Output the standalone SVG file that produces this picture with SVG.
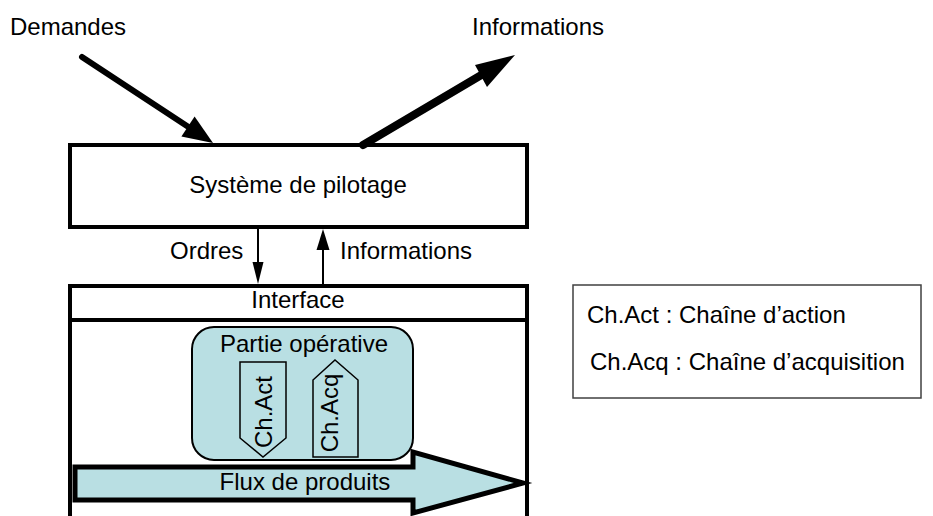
<svg xmlns="http://www.w3.org/2000/svg" width="933" height="516" viewBox="0 0 933 516">
<style>
text{font-family:"Liberation Sans",Arial,sans-serif;font-size:24px;fill:#000}
.mid{text-anchor:middle}
.thick{fill:#fff;stroke:#000;stroke-width:4}
.teal{fill:#b9dfe3;stroke:#000}
</style>
<rect width="933" height="516" fill="#fff"/>
<g id="demandes-label"><text x="10" y="35">Demandes</text></g>
<g id="informations-label"><text x="472" y="35">Informations</text></g>
<g id="systeme">
<rect class="thick" x="70" y="145" width="457" height="82"/>
<text class="mid" x="298" y="193">Système de pilotage</text>
</g>
<g id="partie-commande">
<path d="M70 516 V286 H527 V516" fill="#fff" stroke="#000" stroke-width="4"/>
<line x1="70" y1="320" x2="527" y2="320" stroke="#000" stroke-width="4"/>
<text class="mid" x="298" y="308">Interface</text>
</g>
<g id="partie-operative">
<rect class="teal" x="192" y="327" width="221" height="133" rx="22" stroke-width="2"/>
<text class="mid" x="304" y="352">Partie opérative</text>
</g>
<g id="ch-act">
<polygon class="teal" points="240,362 286,362 286,438 263,457 240,438" stroke-width="1.5"/>
<text class="mid" transform="translate(272,412) rotate(-90)">Ch.Act</text>
</g>
<g id="ch-acq">
<polygon class="teal" points="313,380 335,360 358,380 358,457 313,457" stroke-width="1.5"/>
<text class="mid" transform="translate(338,413) rotate(-90)">Ch.Acq</text>
</g>
<g id="flux">
<polygon class="teal" points="75,467 413,467 413,452 523,483 413,513 413,500 75,500" stroke-width="5"/>
<text class="mid" x="305" y="490">Flux de produits</text>
</g>
<g id="legende">
<rect x="573" y="285" width="348" height="113" fill="#fff" stroke="#404040" stroke-width="1.5"/>
<text x="587" y="323">Ch.Act : Chaîne d’action</text>
<text x="590" y="370">Ch.Acq : Chaîne d’acquisition</text>
</g>
<g id="connectors">
<line x1="82" y1="57" x2="190" y2="128" stroke="#000" stroke-width="6" stroke-linecap="round"/>
<polygon points="213,143 181.4,136.5 194.6,116.5"/>
<line x1="363" y1="145" x2="483" y2="74" stroke="#000" stroke-width="8" stroke-linecap="round"/>
<polygon points="515,55 475,65 487,87"/>
<line x1="258" y1="227" x2="258" y2="264" stroke="#000" stroke-width="2"/>
<polygon points="252.5,262 263.5,262 258,284"/>
<line x1="323" y1="286" x2="323" y2="248" stroke="#000" stroke-width="2"/>
<polygon points="316.5,250 329.5,250 323,229"/>
<text x="170" y="259">Ordres</text>
<text x="340" y="259">Informations</text>
</g>
</svg>
